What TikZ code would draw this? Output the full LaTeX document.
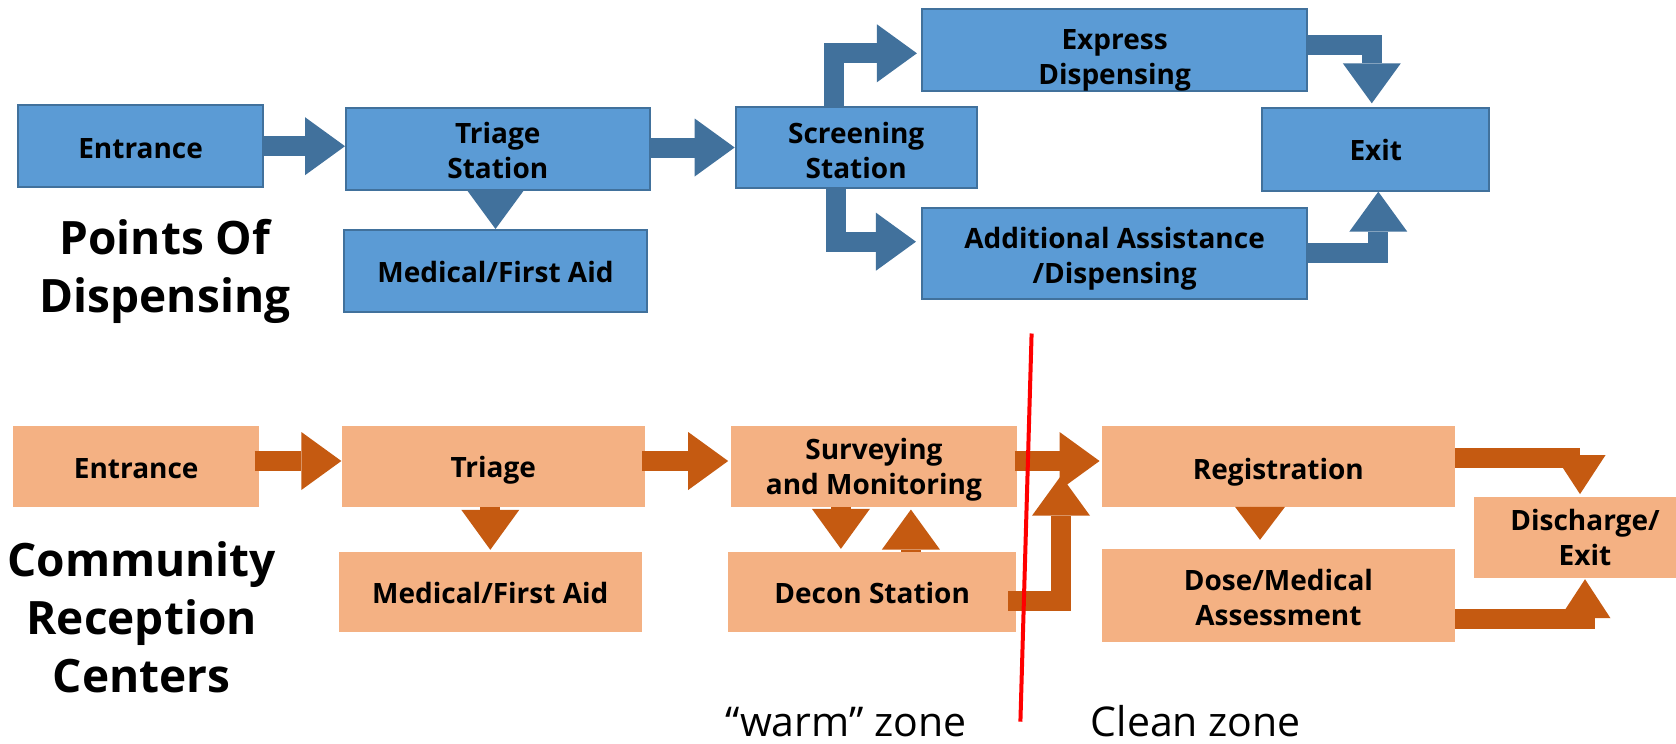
\documentclass[tikz,border=0pt]{standalone}
\usepackage{fontspec}
\setmainfont{Open Sans}
\usetikzlibrary{arrows.meta,calc}
\definecolor{pfill}{HTML}{5B9BD5}
\definecolor{pline}{HTML}{41719C}
\definecolor{cfill}{HTML}{F4B183}
\definecolor{carrow}{HTML}{C55A11}
\newcommand\boxfnt{\fontsize{28}{35}\selectfont\bfseries}
\newcommand\bigfnt{\fontsize{46}{58}\selectfont\bfseries}
\newcommand\zonefnt{\fontsize{41}{49}\selectfont}
\newcommand\tstrut[1]{\rule{0pt}{#1pt}}
\begin{document}
\begin{tikzpicture}[x=1pt,y=-1pt,
  pbox/.style={draw=pline, line width=2pt, fill=pfill, align=center, font=\boxfnt, inner sep=0pt},
  cbox/.style={fill=cfill, align=center, font=\boxfnt, inner sep=0pt},
  tdown/.style={execute at begin node={\rule{0pt}{#1pt}}},
  parr/.style={draw=pline, line width=20pt, line join=miter, -{Triangle[width=58pt,length=40pt,line width=0pt]}},
  carr/.style={draw=carrow, line width=20pt, line join=miter, -{Triangle[width=58pt,length=40pt,line width=0pt]}},
  ctip/.style={-{Triangle[width=51pt,length=39pt,line width=0pt]}},
  bigtxt/.style={align=center, font=\bigfnt, inner sep=0pt},
  zonetxt/.style={font=\zonefnt, inner sep=0pt, anchor=base}
]
\path[use as bounding box, fill=white] (0,0) rectangle (1676,744);
\clip (0,0) rectangle (1676,744);

% ---- Points Of Dispensing (blue)
\node[pbox, tdown=24.2, minimum width=245.5pt, minimum height=82.3pt] (pEnt) at (140.6,146.2) {Entrance};
\node[pbox, minimum width=303.6pt, minimum height=81.7pt] (pTri) at (497.8,149.2) {\tstrut{24.5}Triage\\Station};
\node[pbox, tdown=23.4, minimum width=303.5pt, minimum height=82pt] (pMed) at (495.5,271) {Medical/First Aid};
\node[pbox, minimum width=241.1pt, minimum height=81.6pt] (pScr) at (856.2,147.5) {\tstrut{26.4}Screening\\Station};
\node[pbox, minimum width=385.4pt, minimum height=80.7pt] (pExp) at (1114.6,50.3) {\tstrut{40}Express\\Dispensing};
\node[pbox, minimum width=385.3pt, minimum height=90.7pt] (pAdd) at (1114.6,253.7) {\tstrut{31}Additional Assistance\\/Dispensing};
\node[pbox, tdown=23, minimum width=227pt, minimum height=82.4pt] (pExit) at (1375.8,149.5) {Exit};
\node[bigtxt] (lPOD) at (165,271) {Points Of\\Dispensing};

\draw[parr] (pEnt.east) -- (pEnt.east -| pTri.west);
\draw[parr] (pScr.west -| pTri.east) -- (pScr.west);
\draw[parr, -{Triangle[width=58pt,length=39.5pt,line width=0pt]}] (pMed.north |- pTri.south) -- (pMed.north);
\coordinate (s1) at ($(pScr.north)+(-22,0)$);
\draw[parr, shorten >=4pt] (s1) |- ($(pExp.west)+(0,3)$);
\coordinate (s2) at ($(pScr.south)+(-20,0)$);
\draw[parr, shorten >=5pt] (s2) |- ($(pAdd.west)+(0,-12)$);
\draw[parr] ($(pExp.east)+(0,-5.6)$) -| ($(pExit.north)+(-4,-4)$);
\draw[parr] ($(pAdd.east)+(0,-1)$) -| ($(pExit.south)+(2.5,0)$);

% ---- Community Reception Centers (orange)
\node[cbox, tdown=24.2, minimum width=245.6pt, minimum height=80.7pt] (cEnt) at (136.2,466.4) {Entrance};
\node[cbox, tdown=29.6, minimum width=303.5pt, minimum height=80.7pt] (cTri) at (493.3,466.4) {Triage};
\node[cbox, tdown=23.4, minimum width=302.5pt, minimum height=80pt] (cMed) at (490.3,592.3) {Medical/First Aid};
\node[cbox, minimum width=285.7pt, minimum height=80.7pt] (cSur) at (873.9,466.4) {\tstrut{27}Surveying\\and Monitoring};
\node[cbox, tdown=22.5, minimum width=287.7pt, minimum height=80.3pt] (cDec) at (872.2,592.2) {Decon Station};
\node[cbox, tdown=32, minimum width=353.3pt, minimum height=80.7pt] (cReg) at (1278.4,466.4) {Registration};
\node[cbox, minimum width=353.3pt, minimum height=92.7pt] (cDose) at (1278.4,595.4) {\tstrut{25.5}Dose/Medical\\Assessment};
\node[cbox, minimum width=222pt, minimum height=80.4pt] (cDis) at (1585,537.5) {Discharge/\\Exit};
\node[bigtxt] (lCRC) at (141.7,617) {Community\\Reception\\Centers};

\draw[carr] ($(cEnt.east)+(-4.5,-5.4)$) -- ($(cTri.west)+(0,-5.4)$);
\draw[carr] ($(cTri.east)+(-3,-5.4)$) -- ($(cSur.west)+(-2.7,-5.4)$);
\draw[carr, shorten >=2.3pt] (cMed.north |- cTri.south) -- (cMed.north);
\coordinate (d1) at ($(cSur.south)+(-33,0)$);
\draw[carr, shorten >=3pt] (d1) -- (d1 |- cDec.north);
\coordinate (u1) at ($(cSur.south)+(37,2.6)$);
\draw[carr] (u1 |- cDec.north) -- (u1);
\coordinate (decTip) at (1061,475.7);
\draw[carr] ($(cDec.east)+(-8,8.7)$) -| (decTip);
\draw[carr] ($(cSur.east)+(-2,-5.4)$) -- ($(cReg.west)+(-2,-5.4)$);
\coordinate (r1) at ($(cReg.south)+(-18.4,0)$);
\draw[carr, -{Triangle[width=50pt,length=33pt,line width=0pt]}, shorten >=9pt] (r1) -- (r1 |- cDose.north);
\draw[carr, ctip] ($(cReg.east)+(0,-8.4)$) -| ($(cDis.north)+(-5,-3)$);
\draw[carr, ctip] ($(cDose.east)+(0,23.3)$) -| ($(cDis.south)+(0,1.3)$);

% ---- zones
\node[zonetxt] (zWarm) at (846,736.7) {“warm” zone};
\node[zonetxt] (zClean) at (1195.9,736.7) {Clean zone};
\coordinate (zTop) at (1031.6,333.5);
\coordinate (zBot) at (1020.4,721.7);
\draw[red, line width=4pt] (zTop) -- (zBot);
\end{tikzpicture}
\end{document}
